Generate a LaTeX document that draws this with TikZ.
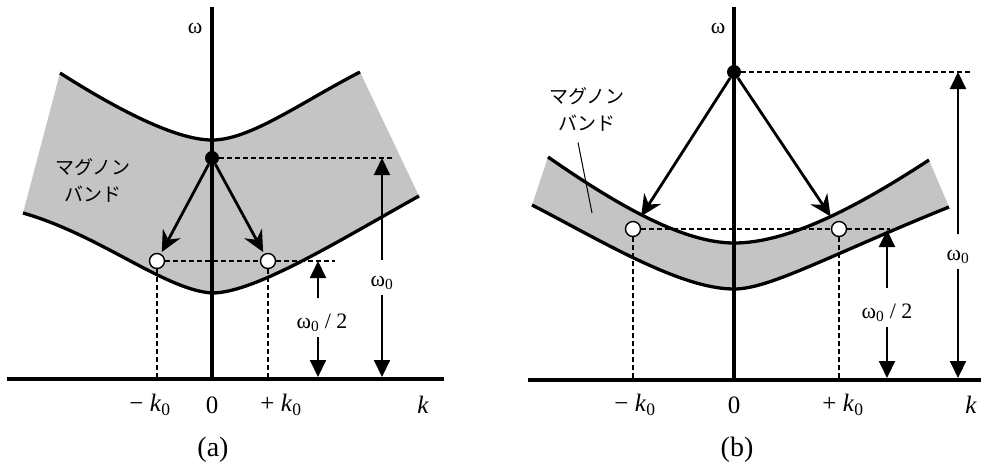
\documentclass[tikz,border=0pt]{standalone}
\usepackage{fontspec}
\setmainfont{Liberation Serif}
\newfontfamily\jpfont{Noto Sans CJK JP}
\usetikzlibrary{calc,arrows.meta,positioning}

\tikzset{
	kaxis/.style={line width=4.5pt},
	bandedge/.style={line width=3.3pt},
	bandfill/.style={fill=black!23},
	guide/.style={line width=1.5pt, dash pattern=on 5pt off 3pt},
	kick/.style={line width=2.8pt, -{Stealth[length=21pt,width=20pt,inset=7pt]}},
	dimline/.style={line width=2pt, -{Triangle[length=17pt,width=16pt]}},
	fulldot/.style={circle, fill=black, inner sep=0pt, minimum size=14pt},
	opendot/.style={circle, draw=black, line width=1.4pt, fill=white, inner sep=0pt, minimum size=15pt},
	axlabel/.style={font=\fontsize{25}{29}\selectfont},
	omlabel/.style={font=\fontsize{22}{26}\selectfont, inner xsep=1pt, inner ysep=5pt},
	caption/.style={font=\fontsize{28}{32}\selectfont},
	bandlabel/.style={font=\jpfont\fontsize{19}{27}\selectfont, align=center},
}

\begin{document}
\begin{tikzpicture}[x=1pt, y=-1pt]
	\useasboundingbox (0,0) rectangle (981,467);

	% ---------------- (a) ----------------
	\fill[bandfill] (60,73) .. controls (115,108) and (175,140) .. (212,140)
		.. controls (250,140) and (300,103) .. (360,72)
		-- (419,196) .. controls (340,240) and (255,293) .. (212,293)
		.. controls (165,290) and (100,235) .. (23,213) -- cycle;
	\draw[bandedge] (60,73) .. controls (115,108) and (175,140) .. (212,140)
		.. controls (250,140) and (300,103) .. (360,72);
	\draw[bandedge] (23,213) .. controls (100,235) and (165,290) .. (212,293)
		.. controls (255,293) and (340,240) .. (419,196);

	\coordinate (axA-l) at (7,379);
	\coordinate (axA-r) at (444,379);
	\coordinate (axA-b) at (212,379);
	\coordinate (axA-t) at (212,7);
	\draw[kaxis] (axA-l) -- (axA-r);
	\draw[kaxis] (axA-b) -- (axA-t);

	\node[bandlabel] (bandA) at (93,180) {マグノン\\バンド};

	\node[fulldot] (dotA) at (212,158) {};
	\node[opendot] (lcA) at (157,261) {};
	\node[opendot] (rcA) at (268,261) {};

	\coordinate (dA1) at (395,158);
	\coordinate (dA2) at (335,261);
	\coordinate (lcAx) at (157,377);
	\coordinate (rcAx) at (268,377);
	\draw[guide] (dotA) -- (dA1);
	\draw[guide] (lcA) -- (rcA);
	\draw[guide] (rcA) -- (dA2);
	\draw[guide] (lcA) -- (lcAx);
	\draw[guide] (rcA) -- (rcAx);

	\draw[kick, shorten >=2pt] (dotA) -- (lcA);
	\draw[kick, shorten >=2pt] (dotA) -- (rcA);

	% omega_0
	\node[omlabel] (omA) at (382,283) {ω\textsubscript{0}};
	\coordinate (omA-t) at (382,158);
	\coordinate (omA-b) at (382,377);
	\draw[dimline, shorten <=11pt] (omA) -- (omA-t);
	\draw[dimline] (omA) -- (omA-b);
	% omega_0 / 2
	\node[omlabel] (halfA) at (322,323) {ω\textsubscript{0} / 2};
	\coordinate (halfA-t) at (318,261);
	\coordinate (halfA-b) at (318,377);
	\draw[dimline, shorten <=11pt] (halfA.north -| halfA-t) -- (halfA-t);
	\draw[dimline] (halfA.south -| halfA-b) -- (halfA-b);

	\node[omlabel] (omegaA) at (195,28) {ω};
	\node[axlabel] (mkA) at (150,405) {− \textit{k}\textsubscript{0}};
	\node[axlabel] (zeroA) at (212,405) {0};
	\node[axlabel] (pkA) at (281,405) {+ \textit{k}\textsubscript{0}};
	\node[axlabel] (kA) at (423,405) {\textit{k}};
	\node[caption] (capA) at (213,450) {(a)};

	% ---------------- (b) ----------------
	\fill[bandfill] (548,157) .. controls (610,200) and (680,243) .. (734,243)
		.. controls (790,243) and (860,205) .. (929,160)
		-- (949,207) .. controls (830,255) and (770,289) .. (734,289)
		.. controls (680,289) and (600,240) .. (532,205) -- cycle;
	\draw[bandedge] (548,157) .. controls (610,200) and (680,243) .. (734,243)
		.. controls (790,243) and (860,205) .. (929,160);
	\draw[bandedge] (532,205) .. controls (600,240) and (680,289) .. (734,289)
		.. controls (770,289) and (830,255) .. (949,207);

	\coordinate (axB-l) at (528,380);
	\coordinate (axB-r) at (981,380);
	\coordinate (axB-b) at (734,380);
	\coordinate (axB-t) at (734,7);
	\draw[kaxis] (axB-l) -- (axB-r);
	\draw[kaxis] (axB-b) -- (axB-t);

	\node[bandlabel] (bandB) at (587,109) {マグノン\\バンド};
	\coordinate (leadB) at (592,213);
	\draw[line width=1pt] ($(bandB.south)+(-9,8)$) -- (leadB);

	\node[fulldot] (dotB) at (734,72) {};
	\node[opendot] (lcB) at (633,229) {};
	\node[opendot] (rcB) at (839,229) {};

	\coordinate (dB1) at (973,72);
	\coordinate (dB2) at (890,229);
	\coordinate (lcBx) at (633,378);
	\coordinate (rcBx) at (839,378);
	\draw[guide] (dotB) -- (dB1);
	\draw[guide] (lcB) -- (rcB);
	\draw[guide] (rcB) -- (dB2);
	\draw[guide] (lcB) -- (lcBx);
	\draw[guide] (rcB) -- (rcBx);

	\draw[kick, shorten >=7pt] (dotB) -- (lcB);
	\draw[kick, shorten >=7pt] (dotB) -- (rcB);

	% omega_0
	\node[omlabel] (omB) at (958,257) {ω\textsubscript{0}};
	\coordinate (omB-t) at (958,72);
	\coordinate (omB-b) at (958,378);
	\draw[dimline, shorten <=11pt] (omB) -- (omB-t);
	\draw[dimline] (omB) -- (omB-b);
	% omega_0 / 2
	\node[omlabel] (halfB) at (887,313) {ω\textsubscript{0} / 2};
	\coordinate (halfB-t) at (887,230);
	\coordinate (halfB-b) at (887,378);
	\draw[dimline, shorten <=11pt] (halfB.north -| halfB-t) -- (halfB-t);
	\draw[dimline] (halfB.south -| halfB-b) -- (halfB-b);

	\node[omlabel] (omegaB) at (718,28) {ω};
	\node[axlabel] (mkB) at (635,405) {− \textit{k}\textsubscript{0}};
	\node[axlabel] (zeroB) at (734,405) {0};
	\node[axlabel] (pkB) at (843,405) {+ \textit{k}\textsubscript{0}};
	\node[axlabel] (kB) at (971,405) {\textit{k}};
	\node[caption] (capB) at (737,450) {(b)};
\end{tikzpicture}
\end{document}
